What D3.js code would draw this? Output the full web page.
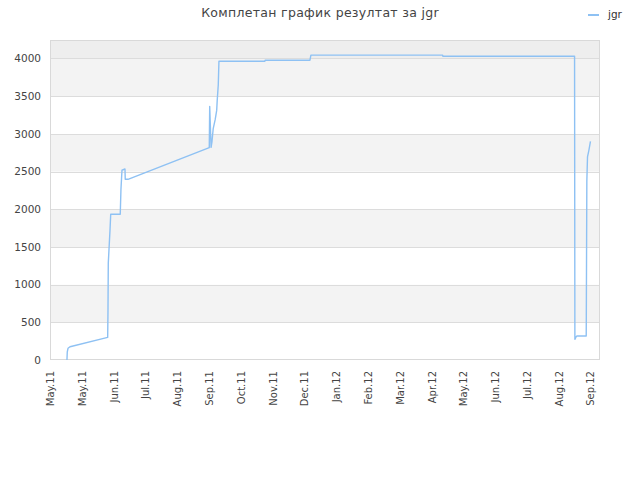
<!DOCTYPE html>
<html><head><meta charset="utf-8">
<script src="https://cdn.jsdelivr.net/npm/d3@7/dist/d3.min.js"></script>
<style>body{margin:0;background:#fff;}svg{display:block;font-family:"DejaVu Sans",sans-serif;}</style>
</head><body><svg id="c" width="640" height="480"></svg>
<script>
const title = "Комплетан график резултат за jgr";
const seriesName = "jgr";
const dates = ["2011-05-17 00:00","2011-05-17 07:00","2011-05-18 00:00","2011-05-19 22:00","2011-06-24 10:00","2011-06-24 17:00","2011-06-25 00:00","2011-06-26 14:00","2011-06-27 07:00","2011-07-06 07:00","2011-07-06 23:00","2011-07-07 22:00","2011-07-10 18:00","2011-07-11 00:00","2011-07-13 14:00","2011-09-28 07:00","2011-09-28 17:00","2011-09-30 00:00","2011-09-30 19:00","2011-10-02 00:00","2011-10-03 22:00","2011-10-05 07:00","2011-10-05 19:00","2011-10-06 19:00","2011-10-07 10:00","2011-11-19 19:00","2011-11-20 00:00","2012-01-01 07:00","2012-01-02 05:00","2012-05-05 12:00","2012-05-05 19:00","2012-09-07 00:00","2012-09-07 07:00","2012-09-08 12:00","2012-09-09 05:00","2012-09-18 00:00","2012-09-18 02:00","2012-09-18 14:00","2012-09-19 05:00","2012-09-20 12:00","2012-09-22 00:00"];
const values = [0,106,155,176,300,636,1285,1713,1934,1934,2265,2517,2534,2397,2397,2817,3364,2820,2891,3068,3192,3311,3444,3651,3964,3964,3977,3977,4044,4044,4030,4030,274,309,318,318,574,2370,2694,2781,2900];
const tickDates = ["2011-05-01","2011-05-31","2011-06-30","2011-07-30","2011-08-29","2011-09-28","2011-10-28","2011-11-27","2011-12-27","2012-01-26","2012-02-25","2012-03-26","2012-04-25","2012-05-25","2012-06-24","2012-07-24","2012-08-23","2012-09-22"];
const tickLabels = ["May.11","May.11","Jun.11","Jul.11","Aug.11","Sep.11","Oct.11","Nov.11","Dec.11","Jan.12","Feb.12","Mar.12","Apr.12","May.12","Jun.12","Jul.12","Aug.12","Sep.12"];
const yTicks = [0,500,1000,1500,2000,2500,3000,3500,4000];
const xDomain = ["2011-05-01","2012-10-01"];
const yMax = 4245;

const pT = d3.timeParse("%Y-%m-%d %H:%M"), pD = d3.timeParse("%Y-%m-%d");
const data = dates.map((d,i)=>({t:pT(d), v:values[i]}));
const L=50,R=600,T=40,B=360;
const x = d3.scaleTime().domain(xDomain.map(pD)).range([L,R]);
const y = d3.scaleLinear().domain([0,yMax]).range([B,T]);
const svg = d3.select("#c");

// bands
const bandEdges = yTicks.concat([yMax]);
for(let i=0;i<bandEdges.length-1;i++){
  const fill = i===bandEdges.length-2 ? "#eeeeee" : (i%2===1 ? "#f3f3f3" : "#ffffff");
  svg.append("rect").attr("x",L).attr("width",R-L)
    .attr("y",y(bandEdges[i+1])).attr("height",y(bandEdges[i])-y(bandEdges[i+1])).attr("fill",fill);
}
// grid
svg.append("g").selectAll("line").data(yTicks.slice(1)).join("line")
  .attr("x1",L).attr("x2",R).attr("y1",d=>Math.round(y(d))+0.5).attr("y2",d=>Math.round(y(d))+0.5)
  .attr("stroke","#dcdcdc").attr("stroke-width",1);
// border
svg.append("rect").attr("x",L+0.5).attr("y",T+0.5).attr("width",R-L-1).attr("height",B-T-1)
  .attr("fill","none").attr("stroke","#d9d9d9");

// y axis
const ya = svg.append("g").attr("transform",`translate(${L},0)`)
  .call(d3.axisLeft(y).tickValues(yTicks).tickFormat(d3.format("d")).tickSize(0).tickPadding(9));
ya.select(".domain").remove();
ya.selectAll("text").attr("fill","#444").attr("font-size","10.5px").attr("font-family","DejaVu Sans");

// x axis
const xa = svg.append("g").attr("transform",`translate(0,${B})`)
  .call(d3.axisBottom(x).tickValues(tickDates.map(pD)).tickSize(0).tickFormat((d,i)=>tickLabels[i]));
xa.select(".domain").remove();
xa.selectAll("text").attr("fill","#444").attr("font-size","10px").attr("font-family","DejaVu Sans")
  .attr("text-anchor","end").attr("transform","rotate(-90)").attr("x",-11).attr("y",0).attr("dy","0.35em");

// line
svg.append("path").datum(data)
  .attr("d",d3.line().x(d=>x(d.t)).y(d=>y(d.v)))
  .attr("fill","none").attr("stroke","#8ec1f3").attr("stroke-width",1.4).attr("stroke-linejoin","round");

// title
svg.append("text").attr("x",320).attr("y",17).attr("text-anchor","middle")
  .attr("fill","#444").attr("font-size","12.5px").attr("letter-spacing","0.3px").text(title);
// legend
svg.append("line").attr("x1",588).attr("x2",599).attr("y1",15).attr("y2",15)
  .attr("stroke","#8ec1f3").attr("stroke-width",2);
svg.append("text").attr("x",608).attr("y",18).attr("fill","#333").attr("font-size","10.5px").text(seriesName);
</script></body></html>
